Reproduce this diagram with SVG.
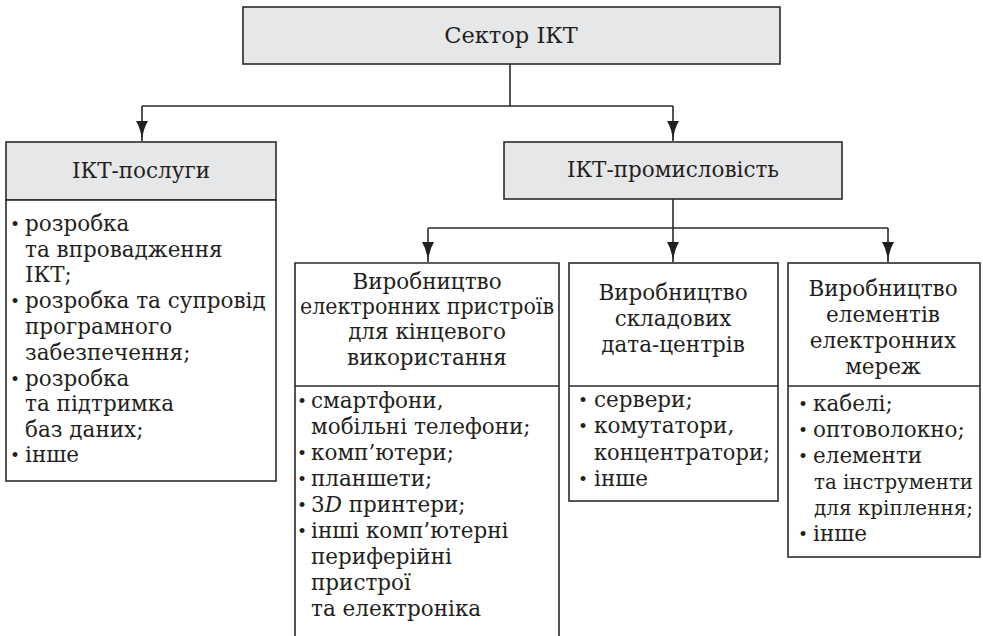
<svg xmlns="http://www.w3.org/2000/svg" width="983" height="636" viewBox="0 0 983 636">
<defs>
<style>
.box{fill:#ffffff;stroke:#2b2b2b;stroke-width:1.6}
.hdr{fill:#e6e7e8;stroke:#2b2b2b;stroke-width:1.6}
.ln{fill:none;stroke:#2b2b2b;stroke-width:1.6}
.c{text-anchor:middle}
.b{font-size:17px;text-anchor:middle}
.t{font-size:22.5px}
.n{font-size:20px}
</style>
<marker id="ah" viewBox="0 0 20 12" refX="20" refY="6" markerWidth="20" markerHeight="12" markerUnits="userSpaceOnUse" orient="auto">
<path d="M0,0 Q8,5 20,6 Q8,7 0,12 z" fill="#231f20"/>
</marker>
</defs>
<rect width="983" height="636" fill="#ffffff"/>
<g id="connectors">
<path class="ln" d="M510,64 V106"/>
<path class="ln" d="M142,106 H673"/>
<path class="ln" d="M142,106 V141" marker-end="url(#ah)"/>
<path class="ln" d="M673,106 V141" marker-end="url(#ah)"/>
<path class="ln" d="M673,199 V262" marker-end="url(#ah)"/>
<path class="ln" d="M428,228 H888"/>
<path class="ln" d="M428,228 V262" marker-end="url(#ah)"/>
<path class="ln" d="M888,228 V262" marker-end="url(#ah)"/>
</g>
<g font-family="DejaVu Serif, serif" font-size="21.5" fill="#231f20">
<g id="sector">
<rect class="hdr" x="243" y="7" width="537" height="57"/>
<text class="c t" x="511" y="43">Сектор ІКТ</text>
</g>
<g id="ict-services">
<rect class="hdr" x="6" y="142" width="270" height="58"/>
<rect class="box" x="6" y="200" width="270" height="281"/>
<text class="c" x="141" y="178">ІКТ-послуги</text>
<text class="b" x="15" y="230">•</text><text x="25" y="231">розробка</text>
<text x="25" y="257">та впровадження</text>
<text x="25" y="282">ІКТ;</text>
<text class="b" x="15" y="307">•</text><text x="25" y="308">розробка та супровід</text>
<text x="25" y="334">програмного</text>
<text x="25" y="360">забезпечення;</text>
<text class="b" x="15" y="385">•</text><text x="25" y="386">розробка</text>
<text x="25" y="411">та підтримка</text>
<text x="25" y="437">баз даних;</text>
<text class="b" x="15" y="461">•</text><text x="25" y="462">інше</text>
</g>
<g id="ict-industry">
<rect class="hdr" x="504" y="142" width="338" height="57"/>
<text class="c" x="673" y="177">ІКТ-промисловість</text>
</g>
<g id="devices">
<path class="box" d="M295,636 V263 H559 V636"/>
<path class="ln" d="M295,386 H559"/>
<text class="c" x="427" y="289">Виробництво</text>
<text class="c" x="427" y="314" textLength="254" lengthAdjust="spacingAndGlyphs">електронних пристроїв</text>
<text class="c" x="427" y="339">для кінцевого</text>
<text class="c" x="427" y="365">використання</text>
<text class="b" x="302" y="407">•</text><text x="311" y="408">смартфони,</text>
<text x="311" y="434">мобільні телефони;</text>
<text class="b" x="302" y="459">•</text><text x="311" y="460">комп’ютери;</text>
<text class="b" x="302" y="485">•</text><text x="311" y="486">планшети;</text>
<text class="b" x="302" y="511">•</text><text x="311" y="512">3<tspan font-style="italic">D</tspan> принтери;</text>
<text class="b" x="302" y="537">•</text><text x="311" y="538">інші комп’ютерні</text>
<text x="311" y="564">периферійні</text>
<text x="311" y="590">пристрої</text>
<text x="311" y="616">та електроніка</text>
</g>
<g id="datacenters">
<rect class="box" x="569" y="263" width="209" height="238"/>
<path class="ln" d="M569,386 H778"/>
<text class="c" x="673" y="300">Виробництво</text>
<text class="c" x="673" y="326">складових</text>
<text class="c" x="673" y="352">дата-центрів</text>
<text class="b" x="583" y="406">•</text><text x="594" y="407">сервери;</text>
<text class="b" x="583" y="432">•</text><text x="594" y="433">комутатори,</text>
<text x="594" y="460" textLength="176" lengthAdjust="spacingAndGlyphs">концентратори;</text>
<text class="b" x="583" y="485">•</text><text x="594" y="486">інше</text>
</g>
<g id="networks">
<rect class="box" x="788" y="263" width="192" height="294"/>
<path class="ln" d="M788,386 H980"/>
<text class="c" x="883" y="296">Виробництво</text>
<text class="c" x="883" y="322">елементів</text>
<text class="c" x="883" y="348">електронних</text>
<text class="c" x="883" y="374">мереж</text>
<text class="b" x="803" y="410">•</text><text x="813" y="411">кабелі;</text>
<text class="b" x="803" y="436">•</text><text x="813" y="437">оптоволокно;</text>
<text class="b" x="803" y="462">•</text><text x="813" y="463">елементи</text>
<text class="n" x="814" y="489" textLength="159" lengthAdjust="spacingAndGlyphs">та інструменти</text>
<text class="n" x="814" y="515" textLength="159" lengthAdjust="spacingAndGlyphs">для кріплення;</text>
<text class="b" x="803" y="540">•</text><text x="813" y="541">інше</text>
</g>
</g>
</svg>
